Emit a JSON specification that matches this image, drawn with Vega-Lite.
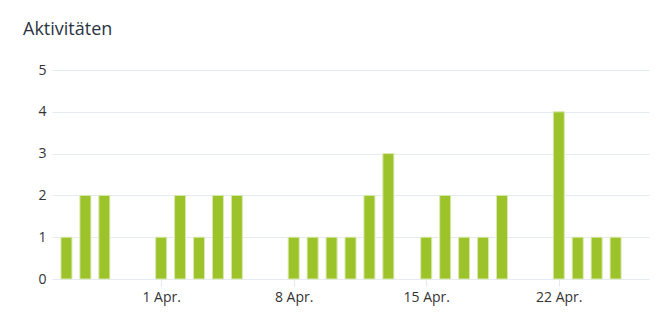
{
  "$schema": "https://vega.github.io/schema/vega-lite/v6.json",
  "autosize": "none",
  "width": 597,
  "height": 209,
  "padding": {"left": 52, "top": 70, "right": 22, "bottom": 54},
  "background": "#ffffff",
  "title": {
    "text": "Aktivitäten",
    "anchor": "start",
    "frame": "group",
    "dx": -29,
    "offset": 24,
    "font": "Open Sans",
    "fontSize": 18,
    "fontWeight": "normal",
    "color": "#2b3445"
  },
  "data": {
    "values": [
      {"date": "2024-03-27", "count": 1},
      {"date": "2024-03-28", "count": 2},
      {"date": "2024-03-29", "count": 2},
      {"date": "2024-04-01", "count": 1},
      {"date": "2024-04-02", "count": 2},
      {"date": "2024-04-03", "count": 1},
      {"date": "2024-04-04", "count": 2},
      {"date": "2024-04-05", "count": 2},
      {"date": "2024-04-08", "count": 1},
      {"date": "2024-04-09", "count": 1},
      {"date": "2024-04-10", "count": 1},
      {"date": "2024-04-11", "count": 1},
      {"date": "2024-04-12", "count": 2},
      {"date": "2024-04-13", "count": 3},
      {"date": "2024-04-15", "count": 1},
      {"date": "2024-04-16", "count": 2},
      {"date": "2024-04-17", "count": 1},
      {"date": "2024-04-18", "count": 1},
      {"date": "2024-04-19", "count": 2},
      {"date": "2024-04-22", "count": 4},
      {"date": "2024-04-23", "count": 1},
      {"date": "2024-04-24", "count": 1},
      {"date": "2024-04-25", "count": 1}
    ]
  },
  "mark": {"type": "bar", "width": 11, "color": "#9dc32b", "stroke": "#d9e9b0", "strokeWidth": 1},
  "encoding": {
    "x": {
      "field": "date",
      "type": "temporal",
      "scale": {
        "type": "utc",
        "domain": [
          {"year": 2024, "month": 3, "date": 26, "hours": 12, "utc": true},
          {"year": 2024, "month": 4, "date": 26, "hours": 12, "utc": true}
        ]
      },
      "axis": {
        "title": null,
        "values": [
          {"year": 2024, "month": 4, "date": 1, "utc": true},
          {"year": 2024, "month": 4, "date": 8, "utc": true},
          {"year": 2024, "month": 4, "date": 15, "utc": true},
          {"year": 2024, "month": 4, "date": 22, "utc": true}
        ],
        "labelExpr": "utcFormat(datum.value, '%-d %b.')",
        "grid": false,
        "domain": false,
        "ticks": true,
        "tickColor": "#e3e7ee",
        "tickSize": 7,
        "labelPadding": 4,
        "labelFont": "Open Sans",
        "labelFontSize": 14,
        "labelColor": "#333333"
      }
    },
    "y": {
      "field": "count",
      "type": "quantitative",
      "scale": {"domain": [0, 5]},
      "axis": {
        "title": null,
        "values": [0, 1, 2, 3, 4, 5],
        "grid": true,
        "gridColor": "#e6eaf2",
        "domain": false,
        "ticks": false,
        "labelPadding": 6,
        "labelFont": "Open Sans",
        "labelFontSize": 14,
        "labelColor": "#333333"
      }
    }
  },
  "config": {"view": {"stroke": null}}
}
